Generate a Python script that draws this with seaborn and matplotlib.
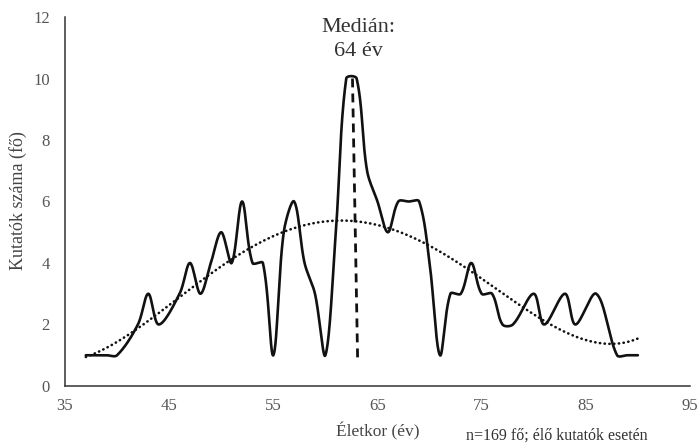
import numpy as np
import pandas as pd
import matplotlib
matplotlib.use("Agg")
import matplotlib.pyplot as plt
import seaborn as sns

# age (years) and number of researchers at that age
ages = [37, 38, 39, 40, 42, 43, 44, 46, 47, 48, 49, 50, 51, 52, 53, 54, 55, 56, 57,
        58, 59, 60, 61, 62, 63, 64, 65, 66, 67, 68, 69, 70, 71, 72, 73, 74, 75, 76,
        77, 78, 80, 81, 83, 84, 86, 88, 89, 90]
counts = [1, 1, 1, 1, 2, 3, 2, 3, 4, 3, 4, 5, 4, 6, 4, 4, 1, 5, 6,
          4, 3, 1, 5, 10, 10, 7, 6, 5, 6, 6, 6, 4, 1, 3, 3, 4, 3, 3,
          2, 2, 3, 2, 3, 2, 3, 1, 1, 1]

x_ticks = [35, 45, 55, 65, 75, 85, 95]
y_ticks = [0, 2, 4, 6, 8, 10, 12]
median_label = "Medián:"
median_value = "64 év"
median_x = [62.6, 63.1]
median_y = [10, 0.75]
trend_degree = 4


def excel_smooth(xs, ys, steps=40, sx=10.42, sy=30.75):
    # bezier smoothing like a spreadsheet "smoothed line", worked out in screen units
    pts = np.column_stack([np.asarray(xs) * sx, np.asarray(ys) * sy]).astype(float)
    padded = np.vstack([pts[0], pts, pts[-1]])
    t = np.linspace(0, 1, steps)[:, None]
    out = []
    for i in range(len(pts) - 1):
        p0, p1, p2, p3 = padded[i], padded[i + 1], padded[i + 2], padded[i + 3]
        d01 = np.hypot(*(p1 - p0))
        d12 = np.hypot(*(p2 - p1))
        d23 = np.hypot(*(p3 - p2))
        c1 = p1 + (p2 - p0) * d12 / (3 * (d01 + d12))
        c2 = p2 - (p3 - p1) * d12 / (3 * (d12 + d23))
        seg = (1 - t) ** 3 * p1 + 3 * (1 - t) ** 2 * t * c1 + 3 * (1 - t) * t ** 2 * c2 + t ** 3 * p2
        out.append(seg if i == 0 else seg[1:])
    out = np.vstack(out)
    return out[:, 0] / sx, out[:, 1] / sy


sns.set_theme(style="white")
plt.rcParams['font.family'] = ['Liberation Serif', 'DejaVu Serif']

fig, ax = plt.subplots(figsize=(6.98, 4.43), dpi=100)
fig.subplots_adjust(left=0.0931, right=0.9885, bottom=0.1287, top=0.9616)

cx, cy = excel_smooth(ages, counts)
curve_df = pd.DataFrame({"age": cx, "count": cy})
sns.lineplot(data=curve_df, x="age", y="count", sort=False, estimator=None,
             color="#111111", lw=1.9, ax=ax)

coef = np.polyfit(ages, counts, trend_degree)
tx = np.linspace(min(ages), max(ages), 300)
trend_df = pd.DataFrame({"age": tx, "count": np.polyval(coef, tx)})
sns.lineplot(data=trend_df, x="age", y="count", color="#111111", lw=1.9, ax=ax,
             linestyle=(0, (0.1, 1.7)), dash_capstyle="round")

ax.plot(median_x, median_y, color="#111111", lw=2, linestyle=(0, (3.2, 2.2)))
ax.text(63.2, 11.66, median_label, ha="center", va="center", fontsize=16,
        color="#333333", clip_on=False)
ax.text(63.2, 10.88, median_value, ha="center", va="center", fontsize=16,
        color="#333333", clip_on=False)

ax.set_xlim(35, 95)
ax.set_ylim(0, 12)
ax.set_xticks(x_ticks)
ax.set_yticks(y_ticks)
ax.tick_params(length=0, labelsize=12, labelcolor="#555555")
ax.tick_params(axis="y", pad=11)
ax.tick_params(axis="x", pad=9)
ax.set_xlabel("")
ax.set_ylabel("")
sns.despine(ax=ax)
for s in ["left", "bottom"]:
    ax.spines[s].set_color("#333333")
    ax.spines[s].set_linewidth(1.1)

fig.text(377.5 / 698, 1 - 431 / 443, "Életkor (év)", ha="center", va="center",
         fontsize=12.5, color="#444444")
fig.text(466 / 698, 1 - 436 / 443, "n=169 fő; élő kutatók esetén", ha="left",
         va="center", fontsize=11.5, color="#333333")
fig.text(18 / 698, 1 - 201 / 443, "Kutatók száma (fő)", ha="center", va="center",
         rotation=90, fontsize=13, color="#444444")

fig.savefig("out.png", dpi=100)
